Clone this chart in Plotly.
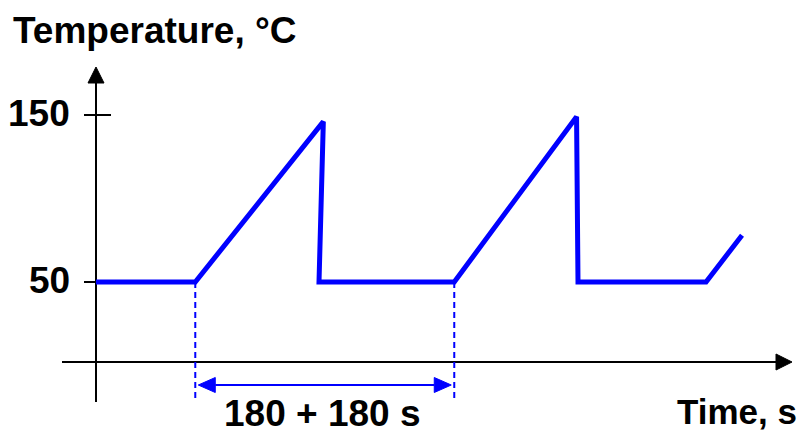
import plotly.graph_objects as go

# ---- data (schematic temperature cycle) ----
time_s = [0, 138, 316, 310, 498, 668, 670, 848, 898]
temp_C = [50, 50, 146, 50, 50, 149, 50, 50, 78]
y_tick_vals = [50, 150]
y_tick_text = ["50", "150"]
cycle_start = [138, 498]
cycle_label = "180 + 180 s"
x_title = "Time, s"
y_title = "Temperature, \u00b0C"

# ---- scales (page body has an 8px margin) ----
OFF = 8
W, H = 806 - OFF, 430 - OFF
sx = 0.7194   # px per second
sy = 1.67     # px per degree
X0_PX, Y50_PX = 96, 282          # screen pixel of t=0 and of 50 degC

def tx(px):  # screen pixel -> time
    return (px - X0_PX) / sx

def ty(py):  # screen pixel -> temperature
    return 50 + (Y50_PX - py) / sy

X_RANGE = [tx(OFF), tx(806)]
Y_RANGE = [ty(430), ty(OFF)]

FONT = "Liberation Sans, Arial, sans-serif"
BLUE = "#0000FF"

axis_T = ty(362)                  # temperature where the time axis sits
x_axis_start, x_axis_end = tx(62), tx(792)
y_axis_bottom, y_axis_top = ty(402), ty(67)

fig = go.Figure()
fig.add_trace(go.Scatter(x=time_s, y=temp_C, mode="lines",
                         line=dict(color=BLUE, width=5), hoverinfo="skip"))

shapes = []
# axes
shapes.append(dict(type="line", x0=x_axis_start, x1=x_axis_end - 14 / sx, y0=axis_T, y1=axis_T,
                   line=dict(color="black", width=2), layer="below"))
shapes.append(dict(type="line", x0=0, x1=0, y0=y_axis_bottom, y1=y_axis_top - 14 / sy,
                   line=dict(color="black", width=2), layer="below"))
# arrow heads on axes
hl, hw = 16, 8
shapes.append(dict(type="path", fillcolor="black", line=dict(color="black", width=1),
                   path=f"M {x_axis_end},{axis_T} L {x_axis_end - hl / sx},{axis_T + hw / sy} "
                        f"L {x_axis_end - hl / sx},{axis_T - hw / sy} Z"))
shapes.append(dict(type="path", fillcolor="black", line=dict(color="black", width=1),
                   path=f"M 0,{y_axis_top} L {-hw / sx},{y_axis_top - hl / sy} "
                        f"L {hw / sx},{y_axis_top - hl / sy} Z"))
# tick marks
for v in y_tick_vals:
    shapes.append(dict(type="line", x0=-12 / sx, x1=15 / sx, y0=v, y1=v,
                       line=dict(color="black", width=2), layer="below"))
# dashed guides at cycle starts
guide_bottom = ty(401)
for t in cycle_start:
    shapes.append(dict(type="line", x0=t, x1=t, y0=temp_C[0], y1=guide_bottom,
                       line=dict(color=BLUE, width=2, dash="6px,4px")))
# double arrow spanning one cycle
arr_T = ty(385)
a0, a1 = cycle_start[0] + 3 / sx, cycle_start[1] - 3 / sx
al, aw = 17, 7.5
shapes.append(dict(type="line", x0=a0 + al / sx, x1=a1 - al / sx, y0=arr_T, y1=arr_T,
                   line=dict(color=BLUE, width=2)))
shapes.append(dict(type="path", fillcolor=BLUE, line=dict(color=BLUE, width=1),
                   path=f"M {a0},{arr_T} L {a0 + al / sx},{arr_T + aw / sy} "
                        f"L {a0 + al / sx},{arr_T - aw / sy} Z"))
shapes.append(dict(type="path", fillcolor=BLUE, line=dict(color=BLUE, width=1),
                   path=f"M {a1},{arr_T} L {a1 - al / sx},{arr_T + aw / sy} "
                        f"L {a1 - al / sx},{arr_T - aw / sy} Z"))

font = dict(family=FONT, size=37, color="black")
annotations = []
for v, txt in zip(y_tick_vals, y_tick_text):
    annotations.append(dict(x=tx(72), y=v + 1.2, text=f"<b>{txt}</b>",
                            xanchor="right", yanchor="middle", showarrow=False, font=font))
annotations.append(dict(x=tx(11), y=ty(30), text=f"<b>{y_title}</b>", xanchor="left",
                        yanchor="middle", showarrow=False, font=font))
annotations.append(dict(x=tx(799), y=ty(411), text=f"<b>{x_title}</b>", xanchor="right",
                        yanchor="middle", showarrow=False,
                        font=dict(family=FONT, size=35, color="black")))
annotations.append(dict(x=tx(322), y=ty(413),
                        text=f"<b>{cycle_label}</b>", xanchor="center",
                        yanchor="middle", showarrow=False, font=font))

fig.update_layout(
    width=W, height=H, margin=dict(l=0, r=0, t=0, b=0),
    paper_bgcolor="white", plot_bgcolor="white", showlegend=False,
    xaxis=dict(range=X_RANGE, visible=False, fixedrange=True),
    yaxis=dict(range=Y_RANGE, visible=False, fixedrange=True),
    shapes=shapes, annotations=annotations,
)
fig.write_html("out.html", config={"displayModeBar": False})
